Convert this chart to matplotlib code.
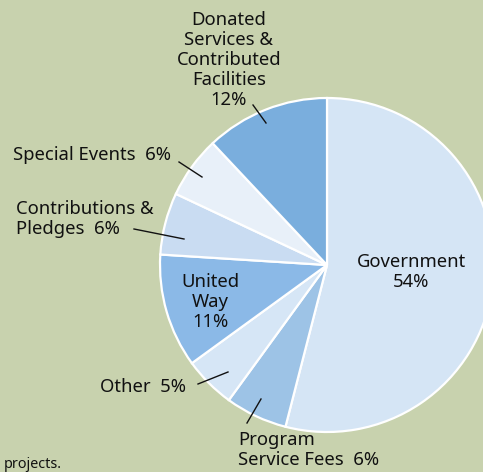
import matplotlib.pyplot as plt

plt.rcParams['font.family'] = ['Noto Sans', 'DejaVu Sans']

# slices, clockwise from the top
sources = ['Government', 'Program Service Fees', 'Other', 'United Way',
           'Contributions & Pledges', 'Special Events',
           'Donated Services & Contributed Facilities']
shares = [54, 6, 5, 11, 6, 6, 12]
colors = ['#d5e5f5', '#9dc3e6', '#d6e6f6', '#8bb9e7',
          '#c9dcf2', '#e8f0f9', '#7aaedd']

W, H = 483, 472
bg = '#c8d2ae'

fig = plt.figure(figsize=(W / 100, H / 100), dpi=100, facecolor=bg)
ax = fig.add_axes([0, 0, 1, 1])

cx, cy, r = 327, H - 265, 167
ax.pie(shares, colors=colors, startangle=90, counterclock=False,
       center=(cx, cy), radius=r, frame=True,
       wedgeprops=dict(edgecolor='white', linewidth=1.6))
ax.set_xlim(0, W)
ax.set_ylim(0, H)
ax.set_aspect('equal')
ax.axis('off')


def label(x, y, s, ha='center'):
    ax.text(x, H - y, s, ha=ha, va='center', fontsize=13.3,
            color='#111111', linespacing=1.13)


def leader(x0, y0, x1, y1):
    ax.plot([x0, x1], [H - y0, H - y1], color='#111111', lw=1.0)


label(411, 272, 'Government\n54%')
label(229, 60, 'Donated\nServices &\nContributed\nFacilities\n12%')
leader(253, 105, 266, 123)
label(13, 155, 'Special Events  6%', ha='left')
leader(179, 162, 202, 177)
label(16, 219, 'Contributions &\nPledges  6%', ha='left')
leader(134, 229, 184, 239)
label(210, 302, 'United\nWay\n11%')
label(100, 387, 'Other  5%', ha='left')
leader(198, 384, 228, 372)
label(238, 450, 'Program\nService Fees  6%', ha='left')
leader(247, 423, 261, 399)
ax.text(4, H - 464, 'projects.', ha='left', va='center', fontsize=10.3,
        color='#111111')

fig.savefig('out.png', dpi=100, facecolor=bg)
